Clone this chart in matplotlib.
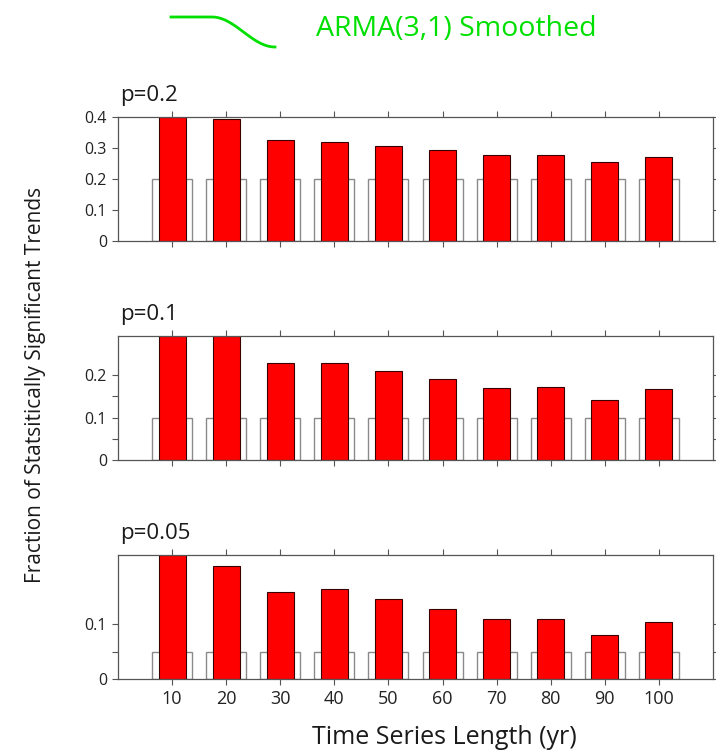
import matplotlib.pyplot as plt
import numpy as np

plt.rcParams['font.family'] = ['Open Sans', 'DejaVu Sans']

# series lengths (yr) and significance levels
lengths = [10, 20, 30, 40, 50, 60, 70, 80, 90, 100]
p_levels = [0.2, 0.1, 0.05]
p_labels = ['p=0.2', 'p=0.1', 'p=0.05']

# fraction of statistically significant trends, ARMA(3,1) smoothed
frac_p20 = [0.400, 0.394, 0.325, 0.319, 0.307, 0.294, 0.276, 0.276, 0.255, 0.271]
frac_p10 = [0.292, 0.292, 0.227, 0.228, 0.210, 0.191, 0.170, 0.172, 0.142, 0.168]
frac_p05 = [0.226, 0.206, 0.158, 0.164, 0.146, 0.127, 0.110, 0.110, 0.080, 0.104]
fractions = [frac_p20, frac_p10, frac_p05]

# y-axis setup per panel
y_tops = [0.4, 0.292, 0.226]
y_ticks = [[0, 0.1, 0.2, 0.3, 0.4],
           [0, 0.05, 0.1, 0.15, 0.2],
           [0, 0.05, 0.1]]
y_ticklabels = [['0', '0.1', '0.2', '0.3', '0.4'],
                ['0', '', '0.1', '', '0.2'],
                ['0', '', '0.1']]

W, H = 716, 754
fig = plt.figure(figsize=(W / 100, H / 100), dpi=100)
fig.patch.set_facecolor('white')

# panel rectangles in pixels: (top, bottom)
panel_px = [(117, 241), (335.7, 460.3), (555, 679.3)]
left_px, right_px = 118, 713

for i, (top, bot) in enumerate(panel_px):
    ax = fig.add_axes([left_px / W, 1 - bot / H, (right_px - left_px) / W, (bot - top) / H])
    # null expectation (outlined) and observed fraction (red)
    ax.bar(lengths, [p_levels[i]] * len(lengths), width=7.4, facecolor='white',
           edgecolor='#8a8a8a', linewidth=1.0, zorder=1)
    ax.bar(lengths, fractions[i], width=5.0, facecolor='#ff0000',
           edgecolor='#3a0000', linewidth=0.8, zorder=2)
    ax.set_xlim(0, 110)
    ax.set_ylim(0, y_tops[i])
    ax.set_xticks(lengths)
    if i == 2:
        ax.set_xticklabels([str(v) for v in lengths], fontsize=13)
    else:
        ax.set_xticklabels([])
    ax.set_yticks(y_ticks[i])
    ax.set_yticklabels(y_ticklabels[i], fontsize=11.5)
    ax.tick_params(direction='out', length=4, width=0.8, color='#555555',
                   top=True, right=True, labelcolor='#222222', pad=4)
    for s in ax.spines.values():
        s.set_color('#555555')
        s.set_linewidth(0.9)
    ax.text(0.003, 1 + 16 / (bot - top), p_labels[i], transform=ax.transAxes,
            fontsize=16, color='#1a1a1a', va='baseline', ha='left')

fig.text(444 / W, 1 - 738 / H, 'Time Series Length (yr)', fontsize=18,
         color='#1a1a1a', ha='center', va='center')
fig.text(36 / W, 1 - 385 / H, 'Fraction of Statsitically Significant Trends',
         fontsize=15, color='#1a1a1a', ha='center', va='center', rotation=90)

# legend swatch for the smoothed series
xs = np.linspace(171, 275, 60)
t = np.clip((xs - 212) / (275 - 212), 0, 1)
ys = 17 + 30 * (1 - np.cos(np.pi * t)) / 2
fig.add_artist(plt.Line2D(xs / W, 1 - ys / H, color='#00e000', linewidth=2.0))
fig.text(316 / W, 1 - 29 / H, 'ARMA(3,1) Smoothed', fontsize=20.5, color='#00e000',
         ha='left', va='center')

fig.savefig('out.png', dpi=100)
